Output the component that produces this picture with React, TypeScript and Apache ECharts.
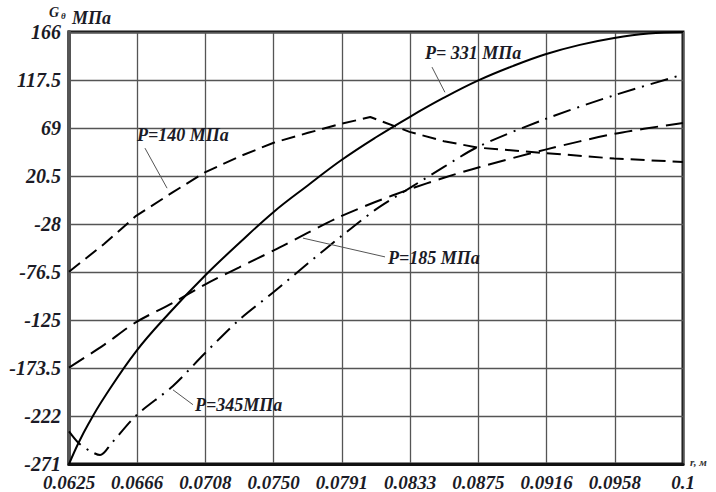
import React, { useEffect, useRef } from "react";
import * as echarts from "echarts";

// ---- axes ----
const X_MIN = 0.0625;
const X_MAX = 0.1;
const X_LABELS = ["0.0625", "0.0666", "0.0708", "0.0750", "0.0791", "0.0833", "0.0875", "0.0916", "0.0958", "0.1"];
const Y_MIN = -271;
const Y_MAX = 166;
const Y_LABELS = ["-271", "-222", "-173.5", "-125", "-76.5", "-28", "20.5", "69", "117.5", "166"];

// ---- series: P = 331 MPa (solid) ----
const R_331 = [0.0625, 0.0631, 0.0637, 0.06464, 0.0666, 0.0687, 0.0708, 0.0729, 0.075, 0.0771, 0.0791, 0.0812, 0.0833, 0.0854, 0.0875, 0.0896, 0.0916, 0.0937, 0.0958, 0.0979, 0.1];
const V_331 = [-271, -249, -230, -204, -157, -117, -80.5, -47.5, -16, 11, 36, 59, 80, 99.5, 117, 131.5, 143.5, 153, 160, 164.5, 166];

// ---- P = 140 MPa (dashed) ----
const R_140 = [0.0625, 0.06464, 0.0666, 0.06885, 0.0708, 0.0729, 0.075, 0.0771, 0.0791, 0.0809, 0.0833, 0.0854, 0.0875, 0.0916, 0.0958, 0.1];
const V_140 = [-76.5, -48.5, -20, 4, 24, 40, 54, 64, 73, 80, 65, 55.5, 49, 43.5, 38, 34.5];

// ---- P = 185 MPa (long dash) ----
const R_185 = [0.0625, 0.06464, 0.0666, 0.06885, 0.0708, 0.0729, 0.075, 0.0771, 0.0791, 0.0812, 0.0833, 0.0854, 0.0875, 0.0916, 0.0958, 0.1];
const V_185 = [-173.5, -150.5, -127.5, -108, -89.5, -72, -55, -37, -20.5, -6, 7, 18.5, 29, 47, 63, 74];

// ---- P = 345 MPa (dash-dot) ----
const R_345 = [0.0625, 0.0631, 0.0638, 0.0644, 0.0651, 0.0666, 0.06885, 0.0708, 0.0729, 0.075, 0.0771, 0.0791, 0.0812, 0.0833, 0.0854, 0.0875, 0.0916, 0.0958, 0.1];
const V_345 = [-238, -250, -258, -262, -250, -222, -192, -159, -125, -97, -68, -41, -14, 8, 29.5, 50, 78, 102, 123];

// ---- annotations (label anchor [r, value], leader line start/end) ----
const NAMES = ["P= 331 МПа", "P=140 МПа", "P=185 МПа", "P=345МПа"];
const LABEL_AT = [[0.08424, 145], [0.06665, 62], [0.08198, -63], [0.0702, -211]];
const LEADER_FROM = [[0.08467, 130.5], [0.06714, 48.5], [0.07679, -42.5], [0.06885, -196]];
const LEADER_TO = [[0.08546, 105], [0.06849, 8], [0.0818, -61.5], [0.07007, -211]];

const FONT = "'Liberation Serif', 'Times New Roman', serif";
const INK = "#1b1b26";

function pairs(r: number[], v: number[]) {
  return r.map((x, i) => [x, v[i]]);
}

export default function App() {
  const ref = useRef<HTMLDivElement>(null);
  useEffect(() => {
    if (!ref.current) return;
    const chart = echarts.init(ref.current, undefined, { renderer: "svg" });
    const xStep = (X_MAX - X_MIN) / 9;
    const yStep = (Y_MAX - Y_MIN) / 9;

    const mk = (idx: number) => ({
      markLine: {
        silent: true,
        symbol: ["none", "none"],
        lineStyle: { color: "#555", width: 1, type: "solid" },
        label: { show: false },
        data: [[{ coord: LEADER_FROM[idx] }, { coord: LEADER_TO[idx] }]],
      },
      markPoint: {
        silent: true,
        symbol: "circle",
        symbolSize: 0,
        label: {
          show: true,
          position: "right",
          distance: 0,
          formatter: NAMES[idx],
          fontFamily: FONT,
          fontStyle: "italic",
          fontWeight: "bold",
          fontSize: 18,
          color: INK,
        },
        data: [{ coord: LABEL_AT[idx] }],
      },
    });

    const series: any[] = [
      {
        name: NAMES[0],
        type: "line",
        data: pairs(R_331, V_331),
        showSymbol: false,
        smooth: 0.4,
        lineStyle: { color: "#000", width: 2, type: "solid" },
        ...mk(0),
      },
      {
        name: NAMES[1],
        type: "line",
        data: pairs(R_140, V_140),
        showSymbol: false,
        smooth: false,
        lineStyle: { color: "#000", width: 2, type: [14, 7] },
        ...mk(1),
      },
      {
        name: NAMES[2],
        type: "line",
        data: pairs(R_185, V_185),
        showSymbol: false,
        smooth: 0.3,
        lineStyle: { color: "#000", width: 2, type: [18, 8] },
        ...mk(2),
      },
      {
        name: NAMES[3],
        type: "line",
        data: pairs(R_345, V_345),
        showSymbol: false,
        smooth: 0.3,
        lineStyle: { color: "#000", width: 2, type: [18, 7, 2, 7] },
        ...mk(3),
      },
    ];

    chart.setOption({
      animation: false,
      backgroundColor: "#fff",
      grid: {
        left: 69,
        right: 33,
        top: 32,
        bottom: 28,
        show: true,
        borderColor: "#111",
        borderWidth: 3,
        containLabel: false,
        outerBoundsMode: "none",
      },
      xAxis: {
        type: "value",
        min: X_MIN,
        max: X_MAX,
        interval: xStep,
        axisLine: { show: true, onZero: false, lineStyle: { color: "#111", width: 3 } },
        axisTick: { show: false },
        splitLine: { show: true, lineStyle: { color: "#555", width: 1.3 } },
        axisLabel: {
          margin: 9,
          alignMaxLabel: "right",
          fontFamily: FONT,
          fontStyle: "italic",
          fontWeight: "bold",
          fontSize: 19,
          color: INK,
          formatter: (v: number) => X_LABELS[Math.round((v - X_MIN) / xStep)] ?? "",
        },
      },
      yAxis: {
        type: "value",
        min: Y_MIN,
        max: Y_MAX,
        interval: yStep,
        axisLine: { show: true, onZero: false, lineStyle: { color: "#555", width: 4 } },
        axisTick: { show: false },
        splitLine: { show: true, lineStyle: { color: "#555", width: 1.3 } },
        axisLabel: {
          margin: 8,
          fontFamily: FONT,
          fontStyle: "italic",
          fontWeight: "bold",
          fontSize: 20,
          color: INK,
          formatter: (v: number) => Y_LABELS[Math.round((v - Y_MIN) / yStep)] ?? "",
        },
      },
      graphic: [
        {
          type: "text",
          left: 49,
          top: 5,
          style: { text: "G", font: `italic bold 14px ${FONT}`, fill: INK },
        },
        {
          type: "text",
          left: 61,
          top: 11,
          style: { text: "θ", font: `italic bold 9px ${FONT}`, fill: INK },
        },
        {
          type: "text",
          left: 72,
          top: 9,
          style: { text: "МПа", font: `italic bold 18px ${FONT}`, fill: INK },
        },
        {
          type: "text",
          left: 690,
          top: 456,
          style: { text: "r, м", font: `italic bold 11px ${FONT}`, fill: "#333" },
        },
      ],
      series,
    });
    return () => chart.dispose();
  }, []);
  return (
    <div
      ref={ref}
      style={{ position: "fixed", left: 0, top: 0, width: 716, height: 492, background: "#fff" }}
    />
  );
}
